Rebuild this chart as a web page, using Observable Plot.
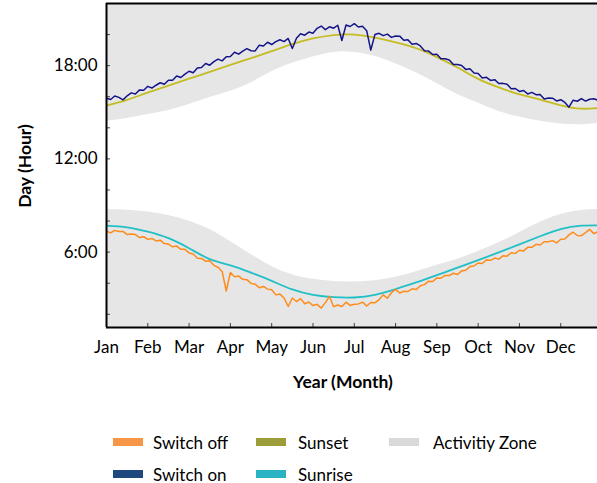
<!DOCTYPE html>
<html><head><meta charset="utf-8">
<script src="https://cdn.jsdelivr.net/npm/d3@7"></script>
<script src="https://cdn.jsdelivr.net/npm/@observablehq/plot@0.6"></script>
<style>
body{margin:0;background:#fff;font-family:Lato,sans-serif;}
#wrap{position:relative;width:597px;height:483px;overflow:hidden;}
.lbl{position:absolute;font-weight:bold;font-size:17.5px;color:#000;white-space:nowrap;line-height:1;}
.sw{position:absolute;width:30px;height:8px;}
.lt{position:absolute;font-size:17px;white-space:nowrap;line-height:1;color:#000;transform:translateY(-50%);}
</style></head><body><div id="wrap"></div>
<script>
const months = ["Jan","Feb","Mar","Apr","May","Jun","Jul","Aug","Sep","Oct","Nov","Dec"];
const monthIdx = [0,1,2,3,4,5,6,7,8,9,10,11];
const yTicks = [6, 12, 18];
const yMinor = [2,4,6,8,10,12,14,16,18,20];
const yDomain = [1.15, 22];
const xDomain = [0, 11.89];

// samples every 0.1 month (hours)
const sampleStep = 0.1;
const switchOn = [15.9,15.82,16.05,15.96,15.8,16.06,16.25,16.18,16.44,16.42,
16.67,16.56,16.74,16.9,16.8,17.06,17.06,17.33,17.24,17.46,
17.64,17.54,17.85,17.88,18.14,18.03,18.26,18.42,18.31,18.57,
18.59,18.86,18.74,18.94,19.1,18.96,18.95,19.32,19.26,19.51,
19.36,19.55,19.67,19.55,19.75,19.1,19.76,20.05,19.96,20.16,
20.09,20.4,20.55,20.32,20.5,20.41,20.6,19.62,20.62,20.52,
20.7,20.49,20.53,20.25,19.0,20.0,20.08,19.93,20.03,19.82,
19.91,19.9,19.64,19.66,19.38,19.43,19.27,18.96,18.94,18.72,
18.73,18.44,18.45,18.37,18.07,18.08,18.01,17.76,17.8,17.53,
17.49,17.2,17.25,17.05,17.1,16.85,16.86,16.81,16.52,16.53,
16.34,16.4,16.18,16.28,16.13,16.14,15.85,15.92,15.91,15.73,
15.81,15.63,15.33,15.78,15.71,15.88,15.72,15.84,15.87,15.78];
const switchOff = [7.34,7.24,7.4,7.33,7.33,7.13,7.16,7.13,6.94,6.99,
6.82,6.88,6.72,6.77,6.55,6.52,6.34,6.39,6.18,6.18,
5.95,5.88,5.6,5.59,5.42,5.44,5.15,5.03,4.76,3.5,
4.69,4.42,4.46,4.25,4.23,3.99,3.94,3.71,3.79,3.62,
3.58,3.25,3.3,3.05,2.5,3.05,2.82,3.01,2.68,2.79,
2.56,2.64,2.4,2.75,3.15,2.49,2.6,2.5,2.78,2.57,
2.64,2.67,2.78,2.53,2.76,2.74,2.94,3.25,3.03,3.39,
3.6,3.37,3.48,3.47,3.64,3.59,3.84,3.91,4.13,4.11,
4.34,4.32,4.5,4.49,4.64,4.56,4.79,4.83,5.07,5.11,
5.3,5.27,5.5,5.47,5.62,5.55,5.76,5.74,5.96,5.92,
6.12,6.08,6.31,6.31,6.5,6.46,6.67,6.67,6.74,6.59,
6.83,6.84,7.11,7.28,7.07,7.06,7.26,7.47,7.19,7.32];

// smooth curves every half month (hours)
const halfStep = 0.5;
const sunset = [15.43,15.8,16.27,16.71,17.16,17.6,18.05,18.48,18.93,19.38,19.75,19.97,20.0,
19.8,19.5,19.12,18.55,17.88,17.15,16.6,16.15,15.82,15.45,15.23,15.3];
const sunrise = [7.71,7.6,7.32,6.9,6.25,5.55,5.15,4.68,4.15,3.6,3.25,3.1,3.08,
3.25,3.62,4.05,4.52,5.0,5.48,5.98,6.5,7.02,7.48,7.7,7.72];
const zoneEvening = [14.42,14.6,14.85,15.12,15.5,15.95,16.35,16.9,17.6,18.15,18.55,18.85,18.85,
18.6,18.12,17.55,16.85,16.15,15.6,15.05,14.7,14.42,14.25,14.2,14.3];
const zoneMorning = [8.72,8.7,8.58,8.35,7.98,7.45,6.68,5.85,5.08,4.55,4.25,4.11,4.08,
4.16,4.38,4.74,5.15,5.55,6.04,6.6,7.25,7.92,8.42,8.68,8.75];

const colors = {off:"#ff8c1a", on:"#14148a", sunset:"#c4bc22", sunrise:"#22c0c6", zone:"#e6e6e6"};
const legendColors = {off:"#f79646", on:"#1f497d", sunset:"#9c9c3a", sunrise:"#2ab3c2", zone:"#d9d9d9"};

const onTbl = switchOn.map((h,i)=>({m:i*sampleStep, h}));
const offTbl = switchOff.map((h,i)=>({m:i*sampleStep, h}));
const sunTbl = sunset.map((s,i)=>({m:i*halfStep, sunset:s, sunrise:sunrise[i], ev:zoneEvening[i], mo:zoneMorning[i]}));

const chart = Plot.plot({
  width: 597, height: 400,
  marginLeft: 106, marginRight: 0, marginTop: 3, marginBottom: 73,
  style: {fontFamily: "Lato, sans-serif", fontSize: "17px", color: "#000", background: "transparent", overflow: "visible"},
  x: {domain: xDomain},
  y: {domain: yDomain},
  marks: [
    Plot.areaY(sunTbl, {x:"m", y1:"ev", y2:yDomain[1], fill:colors.zone, curve:"natural", clip:true}),
    Plot.areaY(sunTbl, {x:"m", y1:yDomain[0], y2:"mo", fill:colors.zone, curve:"natural", clip:true}),
    Plot.line(sunTbl, {x:"m", y:"sunset", stroke:colors.sunset, strokeWidth:1.8, curve:"natural", clip:true}),
    Plot.line(sunTbl, {x:"m", y:"sunrise", stroke:colors.sunrise, strokeWidth:1.8, curve:"natural", clip:true}),
    Plot.line(onTbl, {x:"m", y:"h", stroke:colors.on, strokeWidth:1.5, clip:true}),
    Plot.line(offTbl, {x:"m", y:"h", stroke:colors.off, strokeWidth:1.5, clip:true}),
    Plot.axisY({ticks:yMinor, tickSize:-4, tickFormat:()=>"", label:null, stroke:"#444"}),
    Plot.axisY({ticks:yTicks, tickSize:0, tickPadding:9, tickFormat:h=>`${h}:00`, label:null}),
    Plot.axisX({ticks:monthIdx.slice(1), tickSize:-4, tickFormat:()=>"", label:null, stroke:"#444"}),
    Plot.axisX({ticks:monthIdx, tickSize:0, tickPadding:13, tickFormat:i=>months[i], label:null}),
    Plot.ruleX([xDomain[0]], {stroke:"#000", strokeWidth:2}),
    Plot.ruleY(yDomain, {stroke:"#000", strokeWidth:2})
  ]
});
chart.style.position = "absolute";
chart.style.left = "0px";
chart.style.top = "0px";
const wrap = document.getElementById("wrap");
wrap.appendChild(chart);

function addDiv(cls, text, css) {
  const d = document.createElement("div");
  d.className = cls;
  if (text) d.textContent = text;
  Object.assign(d.style, css);
  wrap.appendChild(d);
  return d;
}
addDiv("lbl", "Day (Hour)", {left:"25px", top:"166px", transform:"translate(-50%,-50%) rotate(-90deg)"});
addDiv("lbl", "Year (Month)", {left:"343px", top:"382px", transform:"translate(-50%,-50%)"});

const legend = [
  {label:"Switch off", key:"off", x:113, y:442},
  {label:"Switch on", key:"on", x:113, y:474},
  {label:"Sunset", key:"sunset", x:256, y:442},
  {label:"Sunrise", key:"sunrise", x:256, y:474},
  {label:"Activitiy Zone", key:"zone", x:389, y:442}
];
const textOffset = {off:40, on:40, sunset:42, sunrise:42, zone:44};
for (const e of legend) {
  addDiv("sw", "", {left:e.x+"px", top:(e.y-4)+"px", background:legendColors[e.key]});
  addDiv("lt", e.label, {left:(e.x+textOffset[e.key])+"px", top:e.y+"px"});
}
</script></body></html>
